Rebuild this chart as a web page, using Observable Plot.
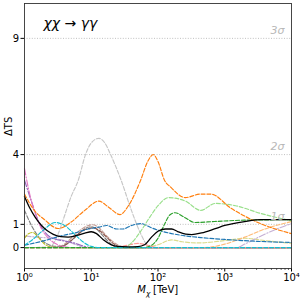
<!DOCTYPE html>
<html><head><meta charset="utf-8">
<script src="https://cdn.jsdelivr.net/npm/d3@7"></script>
<script src="https://cdn.jsdelivr.net/npm/@observablehq/plot@0.6"></script>
<style>body{margin:0;background:#fff;font-family:"DejaVu Sans",sans-serif}</style>
</head><body><div id="chart"></div>
<script>
// Data: [M_chi (TeV), ΔTS]
const black = [[1,2.2],[1.2,1.7],[1.45,1.3],[1.8,0.95],[2.2,0.72],[2.7,0.57],[3.5,0.47],[4.5,0.45],[6,0.52],[8,0.62],[10,0.68],[12,0.6],[15,0.35],[20,0.12],[25,0.05],[35,0.03],[50,0.04],[63,0.12],[80,0.45],[100,0.7],[130,0.8],[160,0.8],[200,0.68],[260,0.58],[320,0.56],[450,0.63],[700,0.8],[1000,0.95],[2000,1.12],[3500,1.2],[10000,1.2]];
const orange = [[1,2.3],[1.4,1.6],[2,1.2],[3.2,0.82],[5,1.1],[8,1.6],[13,2.0],[18,1.75],[27,1.42],[36,1.8],[55,2.9],[70,3.7],[85,4.0],[100,3.7],[125,2.9],[155,2.6],[257,2.15],[430,2.3],[620,2.3],[1230,1.7],[3450,1.03],[10000,0.6]];
const lightGray = [[1,0],[2.3,0],[3,0.4],[3.8,1.2],[5,2.2],[6.4,2.9],[8.2,4.0],[10,4.5],[13,4.7],[16,4.5],[19.5,4.0],[28,2.9],[40,1.6],[55,0.6],[70,0.1],[90,0],[10000,0]];
const lightGreen = [[1,0],[30,0],[39,0.17],[55,0.7],[75,1.3],[100,1.8],[145,2.15],[257,2.0],[436,1.6],[720,1.9],[1450,1.8],[3450,1.47],[10000,1.15]];
const green = [[1,0],[60,0],[80,0.1],[100,0.4],[125,1.0],[150,1.4],[180,1.5],[250,1.3],[360,1.08],[700,1.12],[2000,1.18],[10000,1.2]];
const blue = [[1,0.1],[2,0.3],[3.5,0.5],[6,0.65],[9,0.8],[13,0.88],[17,0.95],[24,0.8],[30,0.8],[40,0.95],[55,1.03],[80,0.85],[100,0.75],[200,0.55],[440,0.43],[1000,0.35],[3000,0.27],[10000,0.22]];
const cyan = [[1,0.1],[1.4,0.4],[2,0.8],[2.9,1.08],[4,0.95],[5.5,0.6],[7.5,0.25],[10,0.05],[13,0],[10000,0]];
const pink = [[1,3.4],[1.23,2.15],[1.46,1.45],[1.8,0.8],[2.3,0.4],[3,0.15],[4,0.03],[5,0],[10000,0]];
const purple = [[1,2.9],[1.3,1.9],[1.7,1.0],[2.2,0.55],[3,0.35],[4,0.28],[5.5,0.2],[7,0.1],[10,0],[10000,0]];
const darkGray = [[1,1.6],[1.3,0.9],[1.7,0.4],[2.2,0.15],[3,0.05],[4,0.1],[5,0.3],[6.5,0.6],[8.5,0.85],[10,0.9],[12,0.8],[15,0.5],[20,0.15],[25,0],[10000,0]];
const brown = [[1,0],[3,0],[4,0.1],[5,0.3],[6.5,0.6],[8.5,0.8],[10.5,0.85],[13,0.75],[17,0.45],[22,0.15],[30,0],[10000,0]];
const lightBrown = [[1,0],[3,0.02],[4,0.15],[5,0.4],[6.5,0.7],[8.5,0.92],[10.5,0.98],[13,0.85],[17,0.5],[23,0.18],[32,0],[10000,0]];
const olive = [[1,0.4],[1.15,0.6],[1.32,0.65],[1.6,0.45],[2,0.15],[2.5,0.02],[3,0],[10000,0]];
const lightOlive = [[1,0],[60,0],[100,0.12],[160,0.33],[230,0.25],[400,0.2],[1000,0.3],[2000,0.4],[4000,0.3],[10000,0.18]];
const lightOrange = [[1,0],[500,0],[1000,0.15],[2000,0.45],[4000,0.8],[10000,1.12]];
const lightPurple = [[1,0],[1500,0],[2000,0.15],[3500,0.5],[6000,0.8],[10000,1.03]];
const lightRed = [[1,0],[20,0],[35,0.1],[50,0.18],[70,0.1],[100,0],[10000,0]];
const violetLow = [[1,0.5],[1.5,0.45],[2.5,0.4],[4,0.3],[6,0.12],[8,0],[10000,0]];

const gridLevels = [1, 4, 9];
const sigmaLabels = ["1σ", "2σ", "3σ"];
const yTicks = [0, 1, 4, 9];
const xTicks = [1, 10, 100, 1000, 10000];
const xTickLabels = ["10⁰", "10¹", "10²", "10³", "10⁴"];

const DASH = "4,1.8";
const DASHDOT = "6.5,1.8,1.2,1.8";
const series = [
  {d: lightGray, c: "#c7c7c7", s: DASH},
  {d: darkGray, c: "#7f7f7f", s: DASH},
  {d: lightBrown, c: "#c49c94", s: DASH},
  {d: brown, c: "#8c564b", s: DASH},
  {d: violetLow, c: "#c5b0d5", s: DASHDOT},
  {d: purple, c: "#9467bd", s: DASHDOT},
  {d: pink, c: "#e377c2", s: DASHDOT},
  {d: olive, c: "#bcbd22", s: DASH},
  {d: lightOlive, c: "#dbdb8d", s: DASH},
  {d: lightRed, c: "#ff9896", s: DASH},
  {d: lightOrange, c: "#ffbb78", s: DASH},
  {d: lightPurple, c: "#c5b0d5", s: DASHDOT},
  {d: blue, c: "#1f77b4", s: DASH},
  {d: lightGreen, c: "#98df8a", s: DASH},
  {d: green, c: "#2ca02c", s: DASH},
  {d: orange, c: "#ff7f0e", s: DASH},
  {d: cyan, c: "#17becf", s: DASH}
];

const minor = [];
for (let e = 0; e < 4; e++) for (let k = 2; k <= 9; k++) minor.push(k * 10 ** e);

const plot = Plot.plot({
  width: 304, height: 299,
  marginLeft: 24, marginRight: 13, marginTop: 3, marginBottom: 31,
  style: {fontFamily: "DejaVu Sans, sans-serif", fontSize: "10px", background: "#fff", overflow: "visible"},
  x: {type: "log", domain: [1, 10000]},
  y: {domain: [-0.9, 10.5]},
  marks: [
    Plot.ruleY(gridLevels, {stroke: "#b0b0b0", strokeDasharray: "1,1.6", strokeWidth: 0.8}),
    ...series.map(o => Plot.line(o.d, {x: d => d[0], y: d => d[1], stroke: o.c, strokeWidth: 1.15, strokeDasharray: o.s, curve: "monotone-x"})),
    Plot.line(black, {x: d => d[0], y: d => d[1], stroke: "#000", strokeWidth: 1.3, curve: "monotone-x"}),
    Plot.text(sigmaLabels, {x: 10000, y: (d, i) => gridLevels[i], text: d => d, textAnchor: "end", dx: -7, dy: -8, fill: "#b8b8b8", fontStyle: "italic", fontSize: 11}),
    Plot.text(["χχ → γγ"], {frameAnchor: "top-left", dx: 19, dy: 20, textAnchor: "start", lineAnchor: "middle", fontSize: 14, fontStyle: "italic", fill: "#000"}),
    Plot.axisY(yTicks, {tickSize: 3.5, tickPadding: 2, label: null, fontSize: 10, stroke: "#000", fill: "#000"}),
    Plot.axisX(minor, {tickSize: 2, tickFormat: () => "", label: null, stroke: "#000", strokeWidth: 0.6}),
    Plot.axisX(xTicks, {tickSize: 3.5, tickPadding: 2, tickFormat: d => xTickLabels[xTicks.indexOf(d)], label: null, fontSize: 10, stroke: "#000", fill: "#000"}),
    Plot.frame({stroke: "#333", strokeWidth: 0.9}),
    Plot.text(["ΔTS"], {frameAnchor: "left", dx: -16, rotate: -90, fontSize: 10, fill: "#000"}),
    Plot.text(["M"], {frameAnchor: "bottom", dx: -12, dy: 24, fontSize: 10, fontStyle: "italic", textAnchor: "end", fill: "#000"}),
    Plot.text(["χ"], {frameAnchor: "bottom", dx: -12, dy: 27, fontSize: 7.5, fontStyle: "italic", textAnchor: "start", fill: "#000"}),
    Plot.text(["[TeV]"], {frameAnchor: "bottom", dx: -5, dy: 24, fontSize: 10, textAnchor: "start", fill: "#000"})
  ]
});
document.getElementById("chart").appendChild(plot);
</script></body></html>
